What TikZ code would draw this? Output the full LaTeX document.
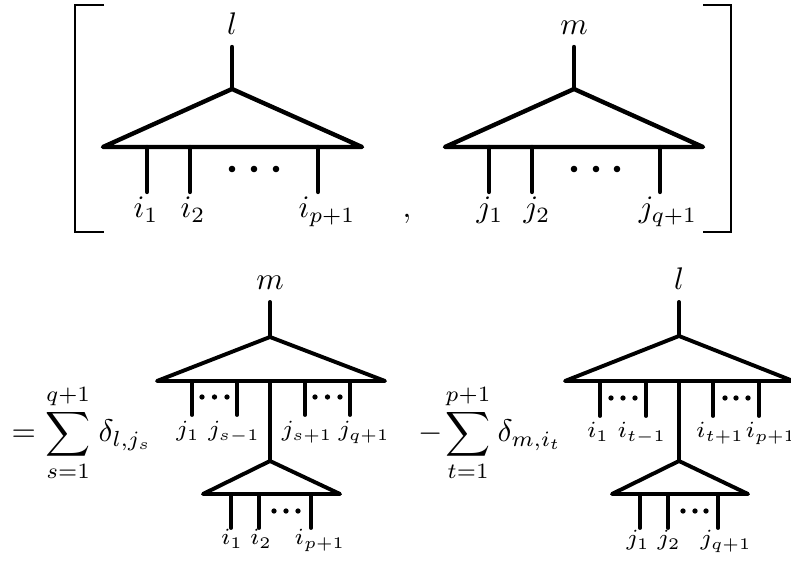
\documentclass[tikz,border=0pt]{standalone}
\usepackage{fix-cm}
\begin{document}
\begin{tikzpicture}[x=0.32pt,y=-0.32pt,
  bigtree/.style={line width=1.4pt, line cap=round, line join=round},
  smalltree/.style={line width=1.25pt, line cap=round, line join=round},
  brk/.style={line width=0.4pt},
  lab/.style={anchor=base, inner sep=0pt},
  slab/.style={anchor=base, inner sep=0pt, font=\fontsize{7.4}{9}\selectfont},
  bigdot/.style={fill=black},
  smalldot/.style={fill=black}]
\useasboundingbox (0,0) rectangle (791,561);

% ---------------- brackets ----------------
\coordinate (BLt) at (104,5);  \coordinate (BLtc) at (75,5);
\coordinate (BLbc) at (75,232); \coordinate (BLb) at (104,232);
\draw[brk] (BLt) -- (BLtc) -- (BLbc) -- (BLb);
\coordinate (BRt) at (703,5);  \coordinate (BRtc) at (731,5);
\coordinate (BRbc) at (731,232); \coordinate (BRb) at (703,232);
\draw[brk] (BRt) -- (BRtc) -- (BRbc) -- (BRb);

% ---------------- top left tree ----------------
\node[lab] (tlroot) at (232,35) {$l$};
\coordinate (tls) at (232,47); \coordinate (tla) at (232,89);
\coordinate (tlL) at (103,147); \coordinate (tlR) at (362,147);
\draw[bigtree] (tls) -- (tla);
\draw[bigtree] (tlL) -- (tla) -- (tlR) -- cycle;
\foreach \x/\n in {147/1,190/2,318/3}{
  \coordinate (tlu\n) at (\x,147); \coordinate (tld\n) at (\x,192);
  \draw[bigtree] (tlu\n) -- (tld\n);}
\foreach \x in {232,254,276}{\fill[bigdot] (\x,169) circle (1.05pt);}
\node[lab] (tli1) at (146,218) {$i_1$};
\node[lab] (tli2) at (193,218) {$i_2$};
\node[lab] (tli3) at (327,218) {$i_{p+1}$};

\node[lab] (comma) at (407,218) {$,$};

% ---------------- top right tree ----------------
\node[lab] (trroot) at (574,35) {$m$};
\coordinate (trs) at (574,47); \coordinate (tra) at (574,89);
\coordinate (trL) at (445,147); \coordinate (trR) at (703,147);
\draw[bigtree] (trs) -- (tra);
\draw[bigtree] (trL) -- (tra) -- (trR) -- cycle;
\foreach \x/\n in {489/1,532/2,660/3}{
  \coordinate (tru\n) at (\x,147); \coordinate (trd\n) at (\x,192);
  \draw[bigtree] (tru\n) -- (trd\n);}
\foreach \x in {574,596,617}{\fill[bigdot] (\x,169) circle (1.05pt);}
\node[lab] (trj1) at (490,218) {$j_1$};
\node[lab] (trj2) at (537,218) {$j_2$};
\node[lab] (trj3) at (668,218) {$j_{q+1}$};

% ---------------- first sum ----------------
\node[anchor=base west, inner sep=0pt] (eq) at (11,442) {$=$};
\node[lab] (sum1) at (68,442) {$\displaystyle\sum_{s=1}^{q+1}$};
\node[anchor=base west, inner sep=0pt] (d1) at (98,442) {$\delta_{l,j_s}$};

% ---------------- bottom left tree ----------------
\node[lab] (blroot) at (270,290) {$m$};
\coordinate (bls) at (270,302); \coordinate (bla) at (270,337);
\coordinate (blL) at (157,381); \coordinate (blR) at (385,381);
\coordinate (blc) at (270,381);
\draw[smalltree] (bls) -- (bla);
\draw[smalltree] (blL) -- (bla) -- (blR) -- cycle;
\foreach \x/\n in {192/1,237/2,305/3,350/4}{
  \coordinate (blu\n) at (\x,381); \coordinate (bld\n) at (\x,415);
  \draw[smalltree] (blu\n) -- (bld\n);}
\foreach \x in {202,214.5,227,315,327.5,340}{\fill[smalldot] (\x,397) circle (0.85pt);}
\coordinate (bla2) at (270,461);
\draw[smalltree] (blc) -- (bla2);
\coordinate (blL2) at (203,494); \coordinate (blR2) at (340,494);
\draw[smalltree] (blL2) -- (bla2) -- (blR2) -- cycle;
\foreach \x/\n in {231/1,259/2,311/3}{
  \coordinate (blv\n) at (\x,494); \coordinate (blw\n) at (\x,528);
  \draw[smalltree] (blv\n) -- (blw\n);}
\foreach \x in {274,286,298}{\fill[smalldot] (\x,511) circle (0.85pt);}
\node[slab] (blj1) at (188,437) {$j_1$};
\node[slab] (blj2) at (234,437) {$j_{s-1}$};
\node[slab] (blj3) at (307,437) {$j_{s+1}$};
\node[slab] (blj4) at (364,437) {$j_{q+1}$};
\node[slab] (bli1) at (232,545) {$i_1$};
\node[slab] (bli2) at (261,545) {$i_2$};
\node[slab] (bli3) at (320,545) {$i_{p+1}$};

% ---------------- second sum ----------------
\node[anchor=base west, inner sep=0pt] (mi) at (418,442) {$-$};
\node[lab] (sum2) at (468,442) {$\displaystyle\sum_{t=1}^{p+1}$};
\node[anchor=base west, inner sep=0pt] (d2) at (497,442) {$\delta_{m,i_t}$};

% ---------------- bottom right tree ----------------
\node[lab] (brroot) at (679,290) {$l$};
\coordinate (brs) at (679,302); \coordinate (bra) at (679,336);
\coordinate (brL) at (565,381); \coordinate (brR) at (793,381);
\coordinate (brc) at (679,381);
\draw[smalltree] (brs) -- (bra);
\draw[smalltree] (brL) -- (bra) -- (brR) -- cycle;
\foreach \x/\n in {600/1,646/2,713/3,759/4}{
  \coordinate (bru\n) at (\x,381); \coordinate (brd\n) at (\x,416);
  \draw[smalltree] (bru\n) -- (brd\n);}
\foreach \x in {611,623,635,725,736,748}{\fill[smalldot] (\x,398) circle (0.85pt);}
\coordinate (bra2) at (679,461);
\draw[smalltree] (brc) -- (bra2);
\coordinate (brL2) at (612,494); \coordinate (brR2) at (748,494);
\draw[smalltree] (brL2) -- (bra2) -- (brR2) -- cycle;
\foreach \x/\n in {640/1,668/2,718/3}{
  \coordinate (brv\n) at (\x,494); \coordinate (brw\n) at (\x,528);
  \draw[smalltree] (brv\n) -- (brw\n);}
\foreach \x in {683,695,706}{\fill[smalldot] (\x,511) circle (0.85pt);}
\node[slab] (bri1) at (598,438) {$i_1$};
\node[slab] (bri2) at (642,438) {$i_{t-1}$};
\node[slab] (bri3) at (720,438) {$i_{t+1}$};
\node[slab] (bri4) at (771,438) {$i_{p+1}$};
\node[slab] (brj1) at (638,546) {$j_1$};
\node[slab] (brj2) at (669,546) {$j_2$};
\node[slab] (brj3) at (726,546) {$j_{q+1}$};
\end{tikzpicture}
\end{document}
